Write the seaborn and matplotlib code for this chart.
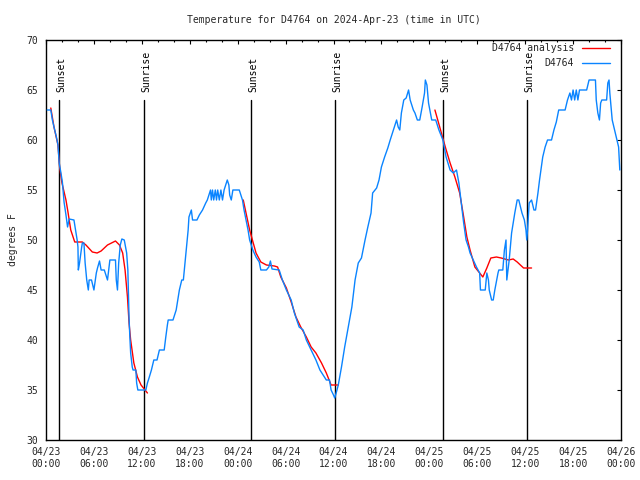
import numpy as np
import pandas as pd
import matplotlib
matplotlib.use("Agg")
import matplotlib.pyplot as plt
from matplotlib.ticker import MultipleLocator
from matplotlib.lines import Line2D
import seaborn as sns

# ---------------- data (hours since 2024-04-23 00:00 UTC) ----------------
obs_hours = [0.15, 0.6, 0.8, 1.0, 1.3, 1.5, 1.65, 1.85, 2.05, 2.26, 2.5, 2.7, 2.9, 3.5, 3.7, 3.9,
             4.0, 4.05, 4.2, 4.45, 4.55, 4.75, 4.9, 5.1, 5.3, 5.4, 5.7, 6.0, 6.3, 6.45, 6.7, 6.9,
             7.3, 7.5, 7.7, 8.0, 8.7, 8.8, 8.95, 9.1, 9.3, 9.5, 9.8, 10.1, 10.25, 10.4, 10.5, 10.6,
             10.8, 10.9, 11.25, 11.35, 11.5, 12.5, 12.7, 12.9, 13.2, 13.5, 13.9, 14.2, 14.8, 15.0,
             15.2, 15.3, 15.9, 16.3, 16.7, 17.0, 17.2, 17.4, 17.6, 17.8, 17.9, 18.2, 18.35, 18.9,
             19.2, 19.6, 20.0, 20.2, 20.6, 20.7, 20.85, 21.0, 21.2, 21.35, 21.5, 21.7, 21.9, 22.1,
             22.3, 22.5, 22.7, 22.9, 23.0, 23.2, 23.4, 24.2, 24.6, 24.8, 25.05, 25.3, 25.5, 25.9,
             26.3, 26.7, 26.9, 27.6, 27.9, 28.1, 28.3, 29.2, 29.6, 30.1, 30.7, 31.1, 31.7, 32.2,
             32.6, 33.2, 33.8, 34.3, 35.1, 35.5, 35.7, 36.0, 36.15, 36.3, 36.6, 37.0, 37.4, 37.85,
             38.3, 38.7, 39.1, 39.5, 39.7, 39.95, 40.3, 40.7, 40.9, 41.4, 41.7, 42.0, 42.4, 42.8,
             43.1, 43.5, 43.9, 44.1, 44.3, 44.5, 44.8, 45.1, 45.4, 45.6, 46.0, 46.2, 46.5, 46.8,
             47.1, 47.4, 47.5, 47.7, 47.9, 48.3, 48.8, 49.2, 49.7, 50.1, 50.6, 51.0, 51.4, 51.7,
             52.0, 52.3, 52.6, 52.9, 53.1, 53.5, 53.9, 54.3, 54.4, 55.0, 55.2, 55.4, 55.5, 55.8,
             56.0, 56.2, 56.6, 56.7, 57.2, 57.4, 57.6, 57.7, 58.0, 58.3, 58.7, 59.0, 59.2, 59.6,
             59.9, 60.1, 60.2, 60.3, 60.5, 60.8, 61.1, 61.3, 61.6, 61.8, 62.2, 62.5, 62.8, 63.3,
             63.6, 63.9, 64.2, 65.0, 65.3, 65.6, 65.8, 66.0, 66.2, 66.4, 66.6, 66.8, 67.7, 68.0,
             68.8, 68.9, 69.1, 69.3, 69.45, 69.6, 70.2, 70.35, 70.5, 70.6, 70.9, 71.2, 71.5, 71.7,
             71.85]
obs_temps = [63.0, 63.0, 62.0, 61.3, 60.3, 59.5, 57.7, 56.8, 55.8, 53.8, 52.5, 51.3, 52.1, 52.0, 51.0, 50.0,
             49.3, 47.0, 47.7, 49.2, 49.7, 49.7, 47.7, 46.0, 45.0, 46.0, 46.0, 45.0, 46.7, 47.2, 47.9, 47.0,
             47.0, 46.5, 46.0, 48.0, 48.0, 46.0, 45.0, 47.7, 49.5, 50.1, 50.0, 48.7, 47.0, 42.2, 40.3, 38.7,
             37.3, 37.0, 37.0, 35.7, 35.0, 35.0, 35.7, 36.2, 37.0, 38.0, 38.0, 39.0, 39.0, 40.3,
             41.5, 42.0, 42.0, 43.0, 45.0, 46.0, 46.0, 47.7, 49.3, 51.0, 52.3, 53.0, 52.0, 52.0,
             52.5, 53.0, 53.7, 54.0, 55.0, 54.0, 55.0, 54.0, 55.0, 54.0, 55.0, 54.0, 55.0, 54.0,
             55.0, 55.5, 56.0, 55.5, 54.5, 54.0, 55.0, 55.0, 54.0, 53.0, 52.0, 51.0, 50.0, 49.0,
             48.3, 47.8, 47.0, 47.0, 47.3, 47.9, 47.1, 47.0, 46.0, 45.0, 44.0, 42.7, 41.3, 41.0,
             40.0, 39.0, 38.0, 37.0, 36.0, 36.0, 35.0, 34.5, 34.2, 34.6, 35.5, 37.3, 39.3, 41.3,
             43.3, 46.0, 47.7, 48.2, 49.0, 50.0, 51.3, 52.7, 54.7, 55.2, 56.0, 57.3, 58.3, 59.2,
             60.0, 61.0, 62.0, 61.3, 61.0, 62.7, 64.0, 64.2, 65.0, 64.0, 63.0, 62.7, 62.0, 62.0,
             63.3, 64.7, 66.0, 65.5, 63.7, 62.0, 62.0, 61.0, 60.0, 58.3, 57.0, 56.7, 57.0, 55.7,
             53.7, 51.7, 50.0, 49.3, 48.7, 48.0, 47.3, 46.7, 45.0, 45.0, 46.7, 46.0, 45.0, 44.0,
             44.0, 45.0, 46.7, 47.0, 47.0, 49.0, 50.0, 46.0, 48.0, 50.7, 52.7, 54.0, 54.0, 52.7,
             52.0, 51.0, 50.0, 51.0, 53.7, 54.0, 53.0, 53.0, 54.7, 56.0, 58.3, 59.3, 60.0, 60.0,
             61.0, 61.8, 63.0, 63.0, 64.0, 64.7, 64.0, 65.0, 64.0, 65.0, 64.0, 65.0, 65.0, 66.0,
             66.0, 64.0, 62.7, 62.0, 63.7, 64.0, 64.0, 65.7, 66.0, 64.7, 62.0, 61.0, 60.0, 59.3,
             57.0]

ana_hours_1 = [0.6, 1.0, 1.5, 1.7, 2.0, 2.5, 2.75, 3.1, 3.6, 4.55, 5.0, 5.8, 6.4, 6.9, 7.7, 8.7,
               9.2, 9.6, 9.9, 10.2, 10.4, 10.6, 11.0, 11.45, 11.9, 12.3, 12.7]
ana_temps_1 = [63.2, 61.3, 59.5, 57.3, 55.7, 54.0, 52.8, 51.0, 49.8, 49.8, 49.5, 48.8, 48.7, 48.9, 49.5, 49.9,
               49.5, 48.7, 47.0, 44.3, 41.7, 40.0, 37.7, 36.3, 35.5, 35.1, 34.7]
ana_hours_2 = [24.7, 25.5, 26.3, 26.9, 27.6, 28.6, 29.0, 29.4, 30.1, 30.7, 31.3, 31.9, 32.6, 33.2,
               33.8, 34.5, 35.1, 35.7, 36.6]
ana_temps_2 = [54.0, 51.0, 48.7, 47.8, 47.5, 47.4, 47.3, 46.3, 45.2, 43.8, 42.3, 41.3, 40.3, 39.3,
               38.7, 37.7, 36.7, 35.5, 35.5]
ana_hours_3 = [48.7, 49.3, 50.0, 50.6, 51.2, 51.8, 52.3, 52.7, 53.1, 53.7, 54.3, 54.7, 55.2, 55.7,
               56.4, 57.0, 57.9, 58.5, 59.0, 59.8, 60.8]
ana_temps_3 = [63.0, 61.3, 59.3, 57.7, 56.3, 54.7, 52.3, 50.3, 49.0, 47.3, 46.7, 46.3, 47.2, 48.2,
               48.3, 48.2, 48.0, 48.1, 47.8, 47.2, 47.2]

sun_hours = [1.68, 12.3, 25.7, 36.2, 49.75, 60.27]
sun_labels = ["Sunset", "Sunrise", "Sunset", "Sunrise", "Sunset", "Sunrise"]

tick_hours = [0, 6, 12, 18, 24, 30, 36, 42, 48, 54, 60, 66, 72]
tick_labels = ["04/23\n00:00", "04/23\n06:00", "04/23\n12:00", "04/23\n18:00",
               "04/24\n00:00", "04/24\n06:00", "04/24\n12:00", "04/24\n18:00",
               "04/25\n00:00", "04/25\n06:00", "04/25\n12:00", "04/25\n18:00",
               "04/26\n00:00"]

series_names = ["D4764 analysis", "D4764"]
title = "Temperature for D4764 on 2024-Apr-23 (time in UTC)"
ylabel = "degrees F"

# ---------------- build tables ----------------
obs_df = pd.DataFrame({"hour": obs_hours, "temp": obs_temps})
ana_df = pd.concat([
    pd.DataFrame({"hour": ana_hours_1, "temp": ana_temps_1, "seg": 1}),
    pd.DataFrame({"hour": ana_hours_2, "temp": ana_temps_2, "seg": 2}),
    pd.DataFrame({"hour": ana_hours_3, "temp": ana_temps_3, "seg": 3}),
], ignore_index=True)

sns.set_style("white")
plt.rcParams["font.family"] = ["DejaVu Sans Mono"]
FS = 7

fig = plt.figure(figsize=(6.4, 4.8), dpi=100)
ax = fig.add_axes([46 / 640, 40 / 480, 575 / 640, 400 / 480])

RED = "#ff0000"
BLUE = "#0a84ff"

sns.lineplot(data=ana_df, x="hour", y="temp", units="seg", estimator=None,
             color=RED, linewidth=1.0, ax=ax, legend=False, zorder=3)
sns.lineplot(data=obs_df, x="hour", y="temp", estimator=None,
             color=BLUE, linewidth=1.0, ax=ax, legend=False, zorder=4)

for h, lab in zip(sun_hours, sun_labels):
    ax.plot([h, h], [30, 64], color="black", linewidth=1.0, zorder=2)
    ax.text(h + 0.25, 64.8, lab, rotation=90, ha="center", va="bottom",
            fontsize=FS, color="black")

ax.set_xlim(0, 72)
ax.set_ylim(30, 70)
ax.set_xticks(tick_hours)
ax.set_xticklabels(tick_labels, fontsize=FS)
ax.xaxis.set_minor_locator(MultipleLocator(2))
ax.yaxis.set_major_locator(MultipleLocator(5))
ax.tick_params(axis="y", labelsize=FS)
ax.tick_params(which="major", direction="in", length=3, width=0.8,
               top=True, right=True, color="black")
ax.tick_params(which="minor", direction="in", length=1.6, width=0.8,
               top=True, right=False, color="black")
ax.tick_params(axis="x", which="major", pad=5)
ax.tick_params(axis="y", which="major", pad=5.5)
for s in ax.spines.values():
    s.set_visible(True)
    s.set_color("black")
    s.set_linewidth(1.0)

ax.set_xlabel("")
ax.set_ylabel(ylabel, fontsize=FS)
ax.yaxis.set_label_coords(-0.048, 0.5)
ax.set_title(title, fontsize=FS, pad=12)

handles = [Line2D([], [], color=RED, linewidth=1.0),
           Line2D([], [], color=BLUE, linewidth=1.0)]
leg = ax.legend(handles, series_names, loc="upper right", bbox_to_anchor=(0.981, 0.992),
                frameon=False, markerfirst=False, fontsize=FS, handlelength=2.9,
                handletextpad=0.8, labelspacing=0.5, borderaxespad=0, borderpad=0)

fig.savefig("out.png", dpi=100, facecolor="white")
